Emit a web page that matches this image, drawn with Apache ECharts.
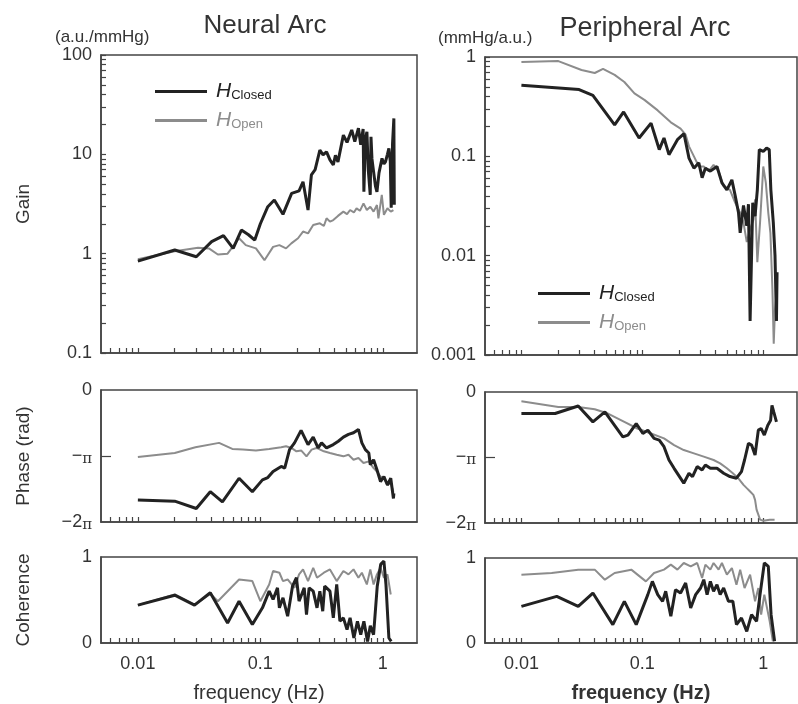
<!DOCTYPE html>
<html>
<head>
<meta charset="utf-8">
<script src="https://cdn.jsdelivr.net/npm/echarts@6/dist/echarts.min.js"></script>
<style>
  html, body { margin: 0; padding: 0; background: #ffffff; }
  #main { width: 798px; height: 704px; }
</style>
</head>
<body>
<div id="main"></div>
<script>
// frequency axis (Hz)
const xTickValues = [0.006, 0.007, 0.008, 0.009, 0.01, 0.02, 0.03, 0.04, 0.05, 0.06, 0.07, 0.08, 0.09, 0.1,
  0.2, 0.3, 0.4, 0.5, 0.6, 0.7, 0.8, 0.9, 1]
const xLabelValues = [0.01, 0.1, 1]

// gain axis ticks
const neuralGainTicks = [0.1, 0.2, 0.3, 0.4, 0.5, 0.6, 0.7, 0.8, 0.9, 1, 2, 3, 4, 5, 6, 7, 8, 9, 10,
  20, 30, 40, 50, 60, 70, 80, 90, 100]
const neuralGainLabels = [0.1, 1, 10, 100]
const periphGainTicks = [0.001, 0.002, 0.003, 0.004, 0.005, 0.006, 0.007, 0.008, 0.009, 0.01,
  0.02, 0.03, 0.04, 0.05, 0.06, 0.07, 0.08, 0.09, 0.1, 0.2, 0.3, 0.4, 0.5, 0.6, 0.7, 0.8, 0.9, 1]
const periphGainLabels = [0.001, 0.01, 0.1, 1]

// Neural arc: gain (a.u./mmHg)
const neuralGainClosed = [[0.01, 0.84], [0.02, 1.09], [0.03, 0.93], [0.04, 1.32], [0.05, 1.52], [0.06, 1.13],
  [0.07, 1.73], [0.08, 1.55], [0.09, 1.37], [0.1, 2.0], [0.115, 2.97], [0.13, 3.47], [0.153, 2.49], [0.18, 4.05],
  [0.207, 4.28], [0.223, 5.3], [0.245, 2.75], [0.261, 6.2], [0.28, 7.0], [0.306, 11.0], [0.325, 9.9], [0.347, 10.6],
  [0.37, 8.8], [0.394, 7.8], [0.41, 9.8], [0.43, 8.4], [0.476, 15.6], [0.51, 13.2], [0.557, 17.6], [0.59, 13.4],
  [0.632, 18.3], [0.66, 12.5], [0.69, 18.0], [0.7, 4.2], [0.72, 14], [0.741, 16.9], [0.76, 7], [0.789, 3.9],
  [0.8, 15], [0.815, 9], [0.84, 6.7], [0.87, 4.8], [0.895, 4.2], [0.93, 6.5], [0.984, 9.1], [1.02, 8.0],
  [1.05, 8.4], [1.09, 10], [1.12, 11.5], [1.15, 8.5], [1.17, 2.9], [1.2, 13], [1.23, 23], [1.24, 3.1]]
const neuralGainOpen = [[0.01, 0.88], [0.02, 1.06], [0.031, 1.15], [0.038, 1.13], [0.045, 0.98], [0.054, 1.0],
  [0.067, 1.43], [0.076, 1.22], [0.092, 1.13], [0.108, 0.86], [0.127, 1.17], [0.143, 1.22], [0.162, 1.13],
  [0.179, 1.27], [0.203, 1.43], [0.223, 1.67], [0.245, 1.6], [0.27, 1.94], [0.306, 2.02], [0.33, 1.9],
  [0.347, 2.27], [0.37, 2.1], [0.394, 2.18], [0.43, 2.4], [0.476, 2.65], [0.51, 2.5], [0.54, 2.75], [0.58, 2.6],
  [0.61, 2.86], [0.65, 2.7], [0.695, 3.21], [0.74, 2.75], [0.79, 2.97], [0.84, 2.65], [0.895, 3.09], [0.92, 2.27],
  [0.98, 3.9], [1.02, 2.46], [1.09, 2.86], [1.16, 2.65], [1.22, 2.75]]

// Peripheral arc: gain (mmHg/a.u.)
const periphGainClosed = [[0.01, 0.52], [0.03, 0.47], [0.039, 0.41], [0.059, 0.207], [0.07, 0.28], [0.094, 0.153],
  [0.118, 0.216], [0.138, 0.117], [0.151, 0.153], [0.166, 0.104], [0.195, 0.147], [0.221, 0.169], [0.243, 0.096],
  [0.267, 0.076], [0.293, 0.086], [0.312, 0.061], [0.332, 0.076], [0.365, 0.071], [0.414, 0.079], [0.455, 0.054],
  [0.5, 0.046], [0.55, 0.058], [0.586, 0.04], [0.624, 0.027], [0.644, 0.017], [0.686, 0.032], [0.73, 0.02],
  [0.754, 0.033], [0.778, 0.0022], [0.818, 0.034], [0.855, 0.025], [0.893, 0.046], [0.927, 0.117], [1.0, 0.112],
  [1.065, 0.121], [1.12, 0.117], [1.155, 0.046], [1.21, 0.0215], [1.25, 0.01], [1.285, 0.0022], [1.3, 0.0068]]
const periphGainOpen = [[0.01, 0.89], [0.0202, 0.91], [0.0314, 0.74], [0.0404, 0.69], [0.0473, 0.76], [0.059, 0.66],
  [0.071, 0.56], [0.086, 0.43], [0.104, 0.37], [0.134, 0.29], [0.172, 0.22], [0.207, 0.19], [0.228, 0.165],
  [0.243, 0.126], [0.267, 0.1], [0.293, 0.079], [0.322, 0.079], [0.354, 0.071], [0.388, 0.082], [0.427, 0.071],
  [0.47, 0.05], [0.53, 0.046], [0.586, 0.034], [0.644, 0.027], [0.686, 0.0215], [0.73, 0.0137], [0.778, 0.0185],
  [0.828, 0.023], [0.855, 0.037], [0.893, 0.0086], [0.94, 0.0215], [1.0, 0.079], [1.05, 0.054], [1.1, 0.027],
  [1.145, 0.017], [1.19, 0.0046], [1.22, 0.0013], [1.25, 0.0029], [1.285, 0.004]]

// phase, in multiples of pi (rad / pi)
const neuralPhaseClosed = [[0.01, -1.668], [0.02, -1.684], [0.03, -1.796], [0.039, -1.541], [0.049, -1.694],
  [0.067, -1.337], [0.086, -1.541], [0.104, -1.362], [0.115, -1.327], [0.127, -1.235], [0.148, -1.158],
  [0.158, -1.184], [0.173, -0.903], [0.19, -0.801], [0.215, -0.612], [0.245, -0.827], [0.27, -0.714],
  [0.296, -0.878], [0.316, -0.801], [0.347, -0.878], [0.394, -0.827], [0.433, -0.776], [0.476, -0.714],
  [0.524, -0.673], [0.576, -0.648], [0.632, -0.597], [0.674, -0.801], [0.72, -0.903], [0.768, -0.954],
  [0.79, -1.133], [0.84, -1.056], [0.895, -1.209], [0.957, -1.388], [1.02, -1.311], [1.09, -1.439],
  [1.16, -1.337], [1.22, -1.643], [1.23, -1.566]]
const neuralPhaseOpen = [[0.01, -1.015], [0.02, -0.954], [0.0295, -0.867], [0.046, -0.801], [0.059, -0.893],
  [0.072, -0.903], [0.092, -0.918], [0.118, -0.893], [0.148, -0.867], [0.162, -0.852], [0.179, -0.878],
  [0.197, -0.929], [0.216, -0.918], [0.238, -1.005], [0.262, -0.903], [0.287, -0.878], [0.33, -0.929],
  [0.37, -0.954], [0.42, -0.98], [0.476, -1.005], [0.524, -0.98], [0.576, -1.056], [0.632, -1.031],
  [0.695, -1.107], [0.768, -1.082], [0.84, -1.184], [0.895, -1.235], [0.957, -1.311], [1.02, -1.337],
  [1.09, -1.439], [1.16, -1.413], [1.22, -1.541]]
const periphPhaseClosed = [[0.01, -0.329], [0.019, -0.329], [0.0295, -0.213], [0.039, -0.456], [0.049, -0.304],
  [0.069, -0.684], [0.076, -0.658], [0.089, -0.481], [0.101, -0.633], [0.111, -0.582], [0.125, -0.709],
  [0.138, -0.734], [0.151, -0.835], [0.166, -1.038], [0.183, -1.165], [0.22, -1.392], [0.243, -1.241],
  [0.26, -1.291], [0.284, -1.139], [0.312, -1.19], [0.332, -1.114], [0.365, -1.165], [0.414, -1.165],
  [0.47, -1.241], [0.53, -1.291], [0.6, -1.316], [0.66, -1.215], [0.7, -1.038], [0.754, -0.785], [0.8, -0.81],
  [0.855, -0.962], [0.91, -0.582], [0.96, -0.557], [1.02, -0.658], [1.09, -0.506], [1.15, -0.43],
  [1.18, -0.203], [1.22, -0.304], [1.285, -0.456]]
const periphPhaseOpen = [[0.01, -0.142], [0.0202, -0.228], [0.0295, -0.228], [0.0404, -0.263], [0.052, -0.329],
  [0.071, -0.456], [0.091, -0.557], [0.118, -0.633], [0.151, -0.709], [0.183, -0.81], [0.22, -0.886],
  [0.267, -0.937], [0.322, -0.987], [0.388, -1.038], [0.44, -1.089], [0.5, -1.165], [0.56, -1.241],
  [0.62, -1.316], [0.686, -1.418], [0.73, -1.468], [0.778, -1.519], [0.828, -1.57], [0.855, -1.646],
  [0.88, -1.797], [0.91, -1.873], [0.94, -1.949], [1.0, -1.965], [1.13, -1.95], [1.24, -1.95]]

// coherence
const neuralCohClosed = [[0.01, 0.44], [0.02, 0.556], [0.029, 0.44], [0.039, 0.584], [0.054, 0.233], [0.067, 0.486],
  [0.086, 0.214], [0.104, 0.409], [0.118, 0.603], [0.127, 0.506], [0.138, 0.642], [0.143, 0.409], [0.153, 0.525],
  [0.167, 0.311], [0.183, 0.661], [0.197, 0.759], [0.207, 0.486], [0.228, 0.642], [0.238, 0.331], [0.25, 0.642],
  [0.27, 0.603], [0.29, 0.409], [0.306, 0.603], [0.323, 0.37], [0.335, 0.661], [0.37, 0.603], [0.394, 0.292],
  [0.42, 0.681], [0.446, 0.253], [0.476, 0.292], [0.51, 0.156], [0.54, 0.292], [0.58, 0.058], [0.62, 0.253],
  [0.66, 0.097], [0.7, 0.253], [0.75, 0.019], [0.79, 0.2], [0.84, 0.097], [0.9, 0.661], [0.96, 0.914],
  [1.02, 0.953], [1.06, 0.681], [1.12, 0.058], [1.17, 0.019]]
const neuralCohOpen = [[0.01, 0.44], [0.02, 0.564], [0.029, 0.447], [0.039, 0.572], [0.045, 0.486], [0.067, 0.739],
  [0.086, 0.72], [0.1, 0.486], [0.118, 0.681], [0.127, 0.837], [0.143, 0.817], [0.153, 0.72], [0.167, 0.739],
  [0.19, 0.642], [0.207, 0.798], [0.223, 0.856], [0.245, 0.72], [0.27, 0.875], [0.29, 0.759], [0.33, 0.817],
  [0.37, 0.856], [0.42, 0.72], [0.476, 0.837], [0.524, 0.798], [0.576, 0.856], [0.632, 0.759], [0.674, 0.817],
  [0.74, 0.681], [0.79, 0.856], [0.84, 0.681], [0.895, 0.798], [0.957, 0.875], [1.02, 0.759], [1.09, 0.798],
  [1.16, 0.564]]
const periphCohClosed = [[0.01, 0.431], [0.0196, 0.549], [0.0295, 0.431], [0.039, 0.588], [0.057, 0.216],
  [0.071, 0.49], [0.089, 0.216], [0.111, 0.569], [0.121, 0.725], [0.134, 0.569], [0.147, 0.49], [0.156, 0.608],
  [0.172, 0.314], [0.188, 0.627], [0.207, 0.588], [0.228, 0.706], [0.251, 0.412], [0.276, 0.569], [0.303, 0.647],
  [0.322, 0.745], [0.343, 0.569], [0.365, 0.725], [0.388, 0.608], [0.414, 0.686], [0.44, 0.569], [0.47, 0.647],
  [0.515, 0.49], [0.56, 0.49], [0.6, 0.216], [0.66, 0.294], [0.73, 0.137], [0.8, 0.333], [0.88, 0.255],
  [0.94, 0.569], [1.02, 0.941], [1.1, 0.902], [1.16, 0.333], [1.24, 0.02]]
const periphCohOpen = [[0.01, 0.804], [0.0178, 0.824], [0.0295, 0.863], [0.0404, 0.863], [0.049, 0.745],
  [0.059, 0.824], [0.081, 0.863], [0.107, 0.725], [0.125, 0.824], [0.151, 0.863], [0.172, 0.922], [0.195, 0.863],
  [0.22, 0.941], [0.251, 0.902], [0.284, 0.941], [0.312, 0.765], [0.332, 0.922], [0.365, 0.863], [0.388, 0.941],
  [0.427, 0.863], [0.455, 0.941], [0.5, 0.804], [0.55, 0.882], [0.6, 0.686], [0.644, 0.863], [0.7, 0.647],
  [0.778, 0.804], [0.855, 0.49], [0.91, 0.647], [0.96, 0.333], [1.02, 0.569], [1.13, 0.255], [1.2, 0.02]]

const FONT = 'Liberation Sans, Arial, sans-serif'
const AXIS_COLOR = '#444'
const TEXT_COLOR = '#333'
const CLOSED_COLOR = '#222'
const OPEN_COLOR = '#8c8c8c'

// grid boxes: neural (left) and peripheral (right); gain, phase, coherence
const grids = [
  { left: 101, top: 55, width: 316, height: 298 },
  { left: 101, top: 390, width: 316, height: 132 },
  { left: 101, top: 557, width: 316, height: 86 },
  { left: 485, top: 57, width: 312, height: 298 },
  { left: 485, top: 392, width: 312, height: 131 },
  { left: 485, top: 558, width: 312, height: 85 }
].map(g => Object.assign({ show: true, borderColor: AXIS_COLOR, borderWidth: 1.5, containLabel: false }, g))

function xAxis (i, showLabel, name) {
  return {
    type: 'log',
    logBase: 10,
    gridIndex: i,
    position: 'bottom',
    min: 0.005,
    max: 1.9,
    name: name || '',
    nameLocation: 'middle',
    nameGap: 40,
    nameTextStyle: { fontSize: 20, color: TEXT_COLOR, fontFamily: FONT, fontWeight: i === 5 ? 'bold' : 'normal' },
    axisLine: { show: true, onZero: false, lineStyle: { color: AXIS_COLOR, width: 1.5 } },
    axisTick: { show: true, inside: true, length: 5, customValues: xTickValues, lineStyle: { color: AXIS_COLOR, width: 1.2 } },
    minorTick: { show: false },
    splitLine: { show: false },
    axisLabel: {
      show: showLabel,
      customValues: xLabelValues,
      fontSize: 18,
      color: TEXT_COLOR,
      fontFamily: FONT,
      margin: 12,
      formatter: v => String(+Number(v).toPrecision(3))
    }
  }
}

function gainAxis (i, min, max, ticks, labels, name) {
  return {
    type: 'log',
    logBase: 10,
    gridIndex: i,
    min: min,
    max: max,
    name: name || '',
    nameLocation: 'middle',
    nameGap: 68,
    nameTextStyle: { fontSize: 19, color: TEXT_COLOR, fontFamily: FONT },
    axisLine: { show: true, onZero: false, lineStyle: { color: AXIS_COLOR, width: 1.5 } },
    axisTick: { show: true, inside: true, length: 5, customValues: ticks, lineStyle: { color: AXIS_COLOR, width: 1.2 } },
    splitLine: { show: false },
    axisLabel: {
      customValues: labels,
      fontSize: 18,
      color: TEXT_COLOR,
      fontFamily: FONT,
      margin: 9,
      formatter: v => String(+Number(v).toPrecision(3))
    }
  }
}

function phaseAxis (i, name) {
  return {
    type: 'value',
    gridIndex: i,
    min: -2,
    max: 0,
    interval: 1,
    name: name || '',
    nameLocation: 'middle',
    nameGap: 68,
    nameTextStyle: { fontSize: 19, color: TEXT_COLOR, fontFamily: FONT },
    axisLine: { show: true, onZero: false, lineStyle: { color: AXIS_COLOR, width: 1.5 } },
    axisTick: { show: true, inside: true, length: 10, customValues: [-1], lineStyle: { color: AXIS_COLOR, width: 1.2 } },
    splitLine: { show: false },
    axisLabel: {
      fontSize: 18,
      color: TEXT_COLOR,
      fontFamily: FONT,
      margin: 9,
      formatter: v => v === 0 ? '0' : (v === -1 ? '{m|−}{p|π}' : '{m|−2}{p|π}'),
      rich: {
        m: { fontSize: 18, color: TEXT_COLOR, fontFamily: FONT },
        p: { fontSize: 15, color: TEXT_COLOR, fontFamily: 'DejaVu Serif, serif', padding: [6, 0, 0, 0] }
      }
    }
  }
}

function cohAxis (i, name) {
  return {
    type: 'value',
    gridIndex: i,
    min: 0,
    max: 1,
    interval: 1,
    name: name || '',
    nameLocation: 'middle',
    nameGap: 68,
    nameTextStyle: { fontSize: 19, color: TEXT_COLOR, fontFamily: FONT },
    axisLine: { show: true, onZero: false, lineStyle: { color: AXIS_COLOR, width: 1.5 } },
    axisTick: { show: false },
    splitLine: { show: false },
    axisLabel: { fontSize: 18, color: TEXT_COLOR, fontFamily: FONT, margin: 9 }
  }
}

function line (name, data, axisIdx, closed) {
  return {
    name: name,
    type: 'line',
    xAxisIndex: axisIdx,
    yAxisIndex: axisIdx,
    data: data,
    symbol: 'none',
    z: closed ? 3 : 2,
    lineStyle: { color: closed ? CLOSED_COLOR : OPEN_COLOR, width: closed ? 3 : 2 },
    itemStyle: { color: closed ? CLOSED_COLOR : OPEN_COLOR },
    animation: false
  }
}

function legend (left, top) {
  return {
    left: left,
    top: top,
    orient: 'vertical',
    itemGap: 8,
    itemWidth: 52,
    itemHeight: 3,
    selectedMode: false,
    data: [
      { name: 'Closed', icon: 'rect', itemStyle: { color: CLOSED_COLOR } },
      { name: 'Open', icon: 'rect', itemStyle: { color: OPEN_COLOR } }
    ],
    formatter: n => n === 'Closed' ? '{hc|H}{sc|Closed}' : '{ho|H}{so|Open}',
    textStyle: {
      fontFamily: FONT,
      rich: {
        hc: { fontSize: 21, fontStyle: 'italic', color: CLOSED_COLOR, padding: [0, 0, 0, 4] },
        sc: { fontSize: 13, color: CLOSED_COLOR, padding: [8, 0, 0, 0] },
        ho: { fontSize: 21, fontStyle: 'italic', color: OPEN_COLOR, padding: [0, 0, 0, 4] },
        so: { fontSize: 13, color: OPEN_COLOR, padding: [8, 0, 0, 0] }
      }
    }
  }
}

const chart = echarts.init(document.getElementById('main'))
chart.setOption({
  backgroundColor: '#ffffff',
  animation: false,
  title: [
    { text: 'Neural Arc', left: 260, top: 8, textAlign: 'center', textStyle: { fontSize: 26, fontWeight: 'normal', color: TEXT_COLOR, fontFamily: FONT } },
    { text: 'Peripheral Arc', left: 640, top: 10, textAlign: 'center', textStyle: { fontSize: 27, fontWeight: 'normal', color: TEXT_COLOR, fontFamily: FONT } },
    { text: '(a.u./mmHg)', left: 50, top: 24, textStyle: { fontSize: 17, fontWeight: 'normal', color: TEXT_COLOR, fontFamily: FONT } },
    { text: '(mmHg/a.u.)', left: 433, top: 25, textStyle: { fontSize: 17, fontWeight: 'normal', color: TEXT_COLOR, fontFamily: FONT } }
  ],
  legend: [legend(150, 76), legend(533, 278)],
  grid: grids,
  xAxis: [
    xAxis(0, false), xAxis(1, false), xAxis(2, true, 'frequency (Hz)'),
    xAxis(3, false), xAxis(4, false), xAxis(5, true, 'frequency (Hz)')
  ],
  yAxis: [
    gainAxis(0, 0.1, 100, neuralGainTicks, neuralGainLabels, 'Gain'),
    phaseAxis(1, 'Phase (rad)'),
    cohAxis(2, 'Coherence'),
    gainAxis(3, 0.001, 1, periphGainTicks, periphGainLabels),
    phaseAxis(4),
    cohAxis(5)
  ],
  series: [
    line('Open', neuralGainOpen, 0, false),
    line('Closed', neuralGainClosed, 0, true),
    line('Open', neuralPhaseOpen, 1, false),
    line('Closed', neuralPhaseClosed, 1, true),
    line('Open', neuralCohOpen, 2, false),
    line('Closed', neuralCohClosed, 2, true),
    line('Open', periphGainOpen, 3, false),
    line('Closed', periphGainClosed, 3, true),
    line('Open', periphPhaseOpen, 4, false),
    line('Closed', periphPhaseClosed, 4, true),
    line('Open', periphCohOpen, 5, false),
    line('Closed', periphCohClosed, 5, true)
  ]
})
</script>
</body>
</html>
